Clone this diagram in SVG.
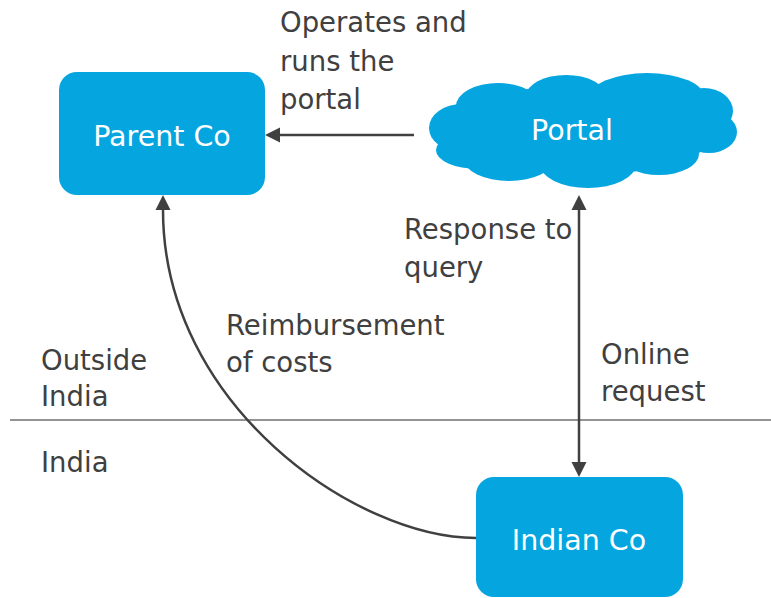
<svg xmlns="http://www.w3.org/2000/svg" width="771" height="598" viewBox="0 0 771 598">
  <style>
    .node { fill: #05A5E0; }
    .node-text { font-family: "DejaVu Sans", Verdana, sans-serif; font-size: 28.5px; fill: #FFFFFF; text-anchor: middle; }
    .label { font-family: "DejaVu Sans", Verdana, sans-serif; font-size: 27.5px; fill: #404040; }
    .edge { fill: none; stroke: #404040; stroke-width: 2.5; }
    .divider { stroke: #707070; stroke-width: 1.5; }
  </style>
  <defs>
    <marker id="arrow" markerUnits="userSpaceOnUse" markerWidth="16" markerHeight="16" viewBox="0 -8 16 16" refX="0" refY="0" orient="auto-start-reverse">
      <path d="M0,-7.5 L15,0 L0,7.5 Z" fill="#404040"/>
    </marker>
  </defs>

  <rect width="771" height="598" fill="#FFFFFF"/>

  <!-- border between the two jurisdictions -->
  <line class="divider" x1="10" y1="420" x2="771" y2="420"/>

  <!-- connectors -->
  <g id="connectors">
    <path class="edge" d="M414,135 L280,135" marker-end="url(#arrow)"/>
    <path class="edge" d="M579,210 L579,462" marker-start="url(#arrow)" marker-end="url(#arrow)"/>
    <path class="edge" d="M476,538 C356,538 163,405 163,210" marker-end="url(#arrow)"/>
  </g>

  <!-- nodes -->
  <g id="parent-co">
    <rect class="node" x="59" y="72" width="206" height="123" rx="18" ry="18"/>
    <text class="node-text" x="162" y="146">Parent Co</text>
  </g>

  <g id="portal">
    <!-- cloud body built from overlapping lobes -->
    <g class="node">
      <ellipse cx="583" cy="130" rx="135" ry="45"/>
      <ellipse cx="462" cy="128" rx="33" ry="24"/>
      <ellipse cx="478" cy="150" rx="42" ry="19"/>
      <ellipse cx="498" cy="106" rx="42" ry="23"/>
      <ellipse cx="566" cy="96" rx="40" ry="21"/>
      <ellipse cx="647" cy="98" rx="58" ry="25"/>
      <ellipse cx="704" cy="111" rx="29" ry="23"/>
      <ellipse cx="709" cy="132" rx="28" ry="21"/>
      <ellipse cx="659" cy="154" rx="40" ry="21"/>
      <ellipse cx="588" cy="164" rx="48" ry="24"/>
      <ellipse cx="509" cy="159" rx="45" ry="22"/>
    </g>
    <text class="node-text" x="572" y="140">Portal</text>
  </g>

  <g id="indian-co">
    <rect class="node" x="476" y="477" width="207" height="120" rx="18" ry="18"/>
    <text class="node-text" x="579" y="550">Indian Co</text>
  </g>

  <!-- labels -->
  <g id="labels">
    <text class="label" x="280" y="32">Operates and</text>
    <text class="label" x="280" y="71">runs the</text>
    <text class="label" x="280" y="109">portal</text>

    <text class="label" x="404" y="239">Response to</text>
    <text class="label" x="404" y="277">query</text>

    <text class="label" x="226" y="335">Reimbursement</text>
    <text class="label" x="226" y="372">of costs</text>

    <text class="label" x="41" y="370">Outside</text>
    <text class="label" x="41" y="406">India</text>

    <text class="label" x="41" y="472">India</text>

    <text class="label" x="601" y="364">Online</text>
    <text class="label" x="601" y="401">request</text>
  </g>
</svg>
